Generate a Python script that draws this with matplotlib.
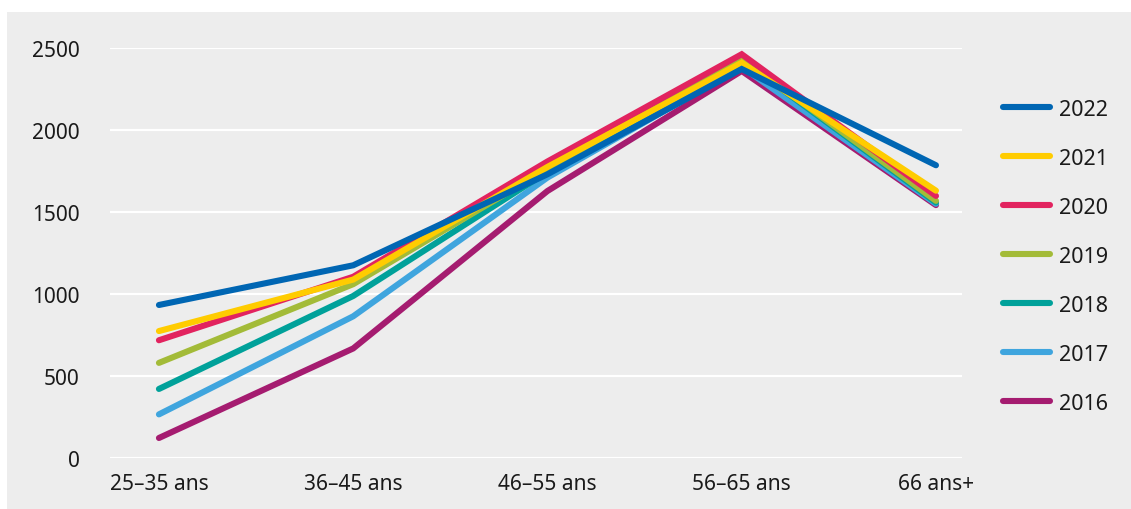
import numpy as np
import matplotlib
matplotlib.use('Agg')
import matplotlib.pyplot as plt
from matplotlib.patches import Rectangle

plt.rcParams['font.family']=['Noto Sans','DejaVu Sans']

categories=['25–35 ans','36–45 ans','46–55 ans','56–65 ans','66 ans+']
years=['2022','2021','2020','2019','2018','2017','2016']
values={
    '2022':[933,1175,1730,2372,1785],
    '2021':[774,1088,1775,2410,1630],
    '2020':[718,1105,1808,2462,1598],
    '2019':[580,1060,1762,2437,1568],
    '2018':[421,988,1745,2428,1558],
    '2017':[266,864,1710,2385,1550],
    '2016':[122,668,1628,2360,1542],
}
colors={'2022':'#0066b3','2021':'#ffcc00','2020':'#e2235f','2019':'#a3bb38',
        '2018':'#00a19a','2017':'#3fa5de','2016':'#a51c70'}
yticks=[0,500,1000,1500,2000,2500]

W,H=1131,510
fig=plt.figure(figsize=(W/100,H/100),dpi=100)
fig.patches.append(Rectangle((7/W,0),1,(H-13)/H,transform=fig.transFigure,
                             facecolor='#ededed',edgecolor='none',zorder=-5))
ax=fig.add_axes([110/W,1-459/H,852/W,410/H])
ax.set_facecolor('none')
ax.set_zorder(2)

x=np.arange(len(categories))
handles={}
# older years first so 2022 ends up on top
for yr in years[::-1]:
    ln,=ax.plot(x,values[yr],color=colors[yr],lw=4.4,solid_capstyle='round',
                solid_joinstyle='miter',clip_on=False,zorder=3)
    handles[yr]=ln

ax.set_xlim(-0.252,4.134)
ax.set_ylim(0,2500)
ax.set_yticks(yticks)
ax.set_xticks(x)
ax.set_xticklabels(categories)
ax.grid(axis='y',color='white',lw=1.6)
ax.set_axisbelow(True)
for s in ax.spines.values():
    s.set_visible(False)
ax.tick_params(axis='y',length=0,pad=22,labelsize=15,labelcolor='#1a1a1a')
ax.tick_params(axis='x',length=0,pad=11,labelsize=15,labelcolor='#1a1a1a')

leg=fig.legend([handles[y] for y in years],years,loc='upper left',
               bbox_to_anchor=(994/W,1-91/H),frameon=False,fontsize=15.5,
               handlelength=2.2,handletextpad=0.4,labelspacing=1.3,
               borderaxespad=0)
for t in leg.get_texts():
    t.set_color('#1a1a1a')

fig.savefig('out.png',dpi=100)
